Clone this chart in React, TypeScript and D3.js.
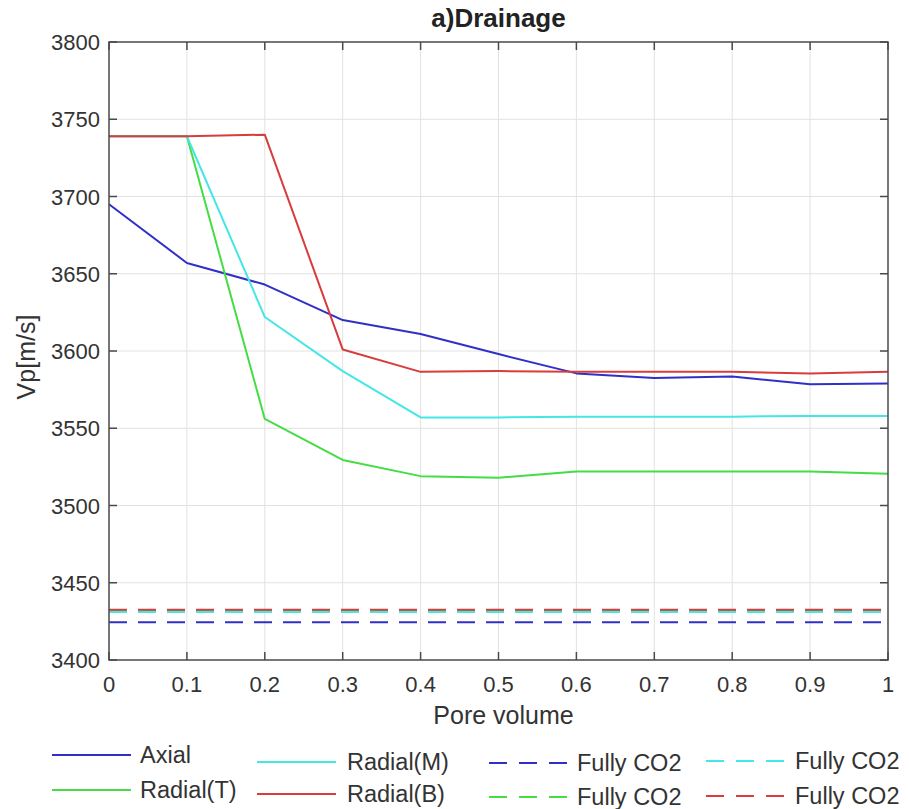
import React from "react";
import * as d3 from "d3";

// Pore volume injected (x) and P-wave velocity readings (m/s)
const poreVolume = [0, 0.1, 0.2, 0.3, 0.4, 0.5, 0.6, 0.7, 0.8, 0.9, 1];
const axial = [3695, 3657, 3643, 3620, 3611, 3598, 3585.5, 3582.5, 3583.5, 3578.5, 3579];
const radialT = [3739, 3739, 3556, 3529.5, 3519, 3518, 3522, 3522, 3522, 3522, 3520.5];
const radialM = [3739, 3739, 3622, 3587, 3557, 3557, 3557.5, 3557.5, 3557.5, 3558, 3558];
const radialB = [3739, 3739, 3740, 3601, 3586.5, 3587, 3586.5, 3586.5, 3586.5, 3585.5, 3586.5];

// Fully CO2-saturated reference velocities
const fullyCO2Axial = 3424.5;
const fullyCO2RadialT = 3432;
const fullyCO2RadialM = 3431;
const fullyCO2RadialB = 3432.5;

const xTicks = [0, 0.1, 0.2, 0.3, 0.4, 0.5, 0.6, 0.7, 0.8, 0.9, 1];
const yTicks = [3400, 3450, 3500, 3550, 3600, 3650, 3700, 3750, 3800];

const COLORS = {
  blue: "#3030c8",
  green: "#44dd44",
  cyan: "#44e6e6",
  red: "#d83c3c",
};

const W = 909;
const H = 809;
const M = { left: 109, right: 888, top: 42, bottom: 660 };
const FONT = "'Liberation Sans', Arial, Helvetica, sans-serif";
const DASH = "18 11";

export default function App() {
  const x = d3.scaleLinear().domain([0, 1]).range([M.left, M.right]);
  const y = d3.scaleLinear().domain([3400, 3800]).range([M.bottom, M.top]);

  const line = d3
    .line<number>()
    .x((_, i) => x(poreVolume[i]))
    .y((d) => y(d));

  const solid = [
    { values: axial, color: COLORS.blue },
    { values: radialT, color: COLORS.green },
    { values: radialM, color: COLORS.cyan },
    { values: radialB, color: COLORS.red },
  ];
  const dashed = [
    { value: fullyCO2Axial, color: COLORS.blue },
    { value: fullyCO2RadialT, color: COLORS.green },
    { value: fullyCO2RadialM, color: COLORS.cyan },
    { value: fullyCO2RadialB, color: COLORS.red },
  ];

  const tickLen = 8;
  const axisColor = "#4a4a4a";
  const textColor = "#333";

  // legend entries: column-major, two rows
  const legend = [
    { label: "Axial", color: COLORS.blue, dash: false, lx: 52, tx: 140, cy: 755 },
    { label: "Radial(T)", color: COLORS.green, dash: false, lx: 52, tx: 140, cy: 790 },
    { label: "Radial(M)", color: COLORS.cyan, dash: false, lx: 257, tx: 347, cy: 762 },
    { label: "Radial(B)", color: COLORS.red, dash: false, lx: 257, tx: 347, cy: 794 },
    { label: "Fully CO2", color: COLORS.blue, dash: true, lx: 489, tx: 577, cy: 763 },
    { label: "Fully CO2", color: COLORS.green, dash: true, lx: 489, tx: 577, cy: 797 },
    { label: "Fully CO2", color: COLORS.cyan, dash: true, lx: 706, tx: 795, cy: 761 },
    { label: "Fully CO2", color: COLORS.red, dash: true, lx: 706, tx: 795, cy: 796 },
  ];

  return (
    <svg
      width={W}
      height={H}
      style={{ position: "absolute", left: 0, top: 0, background: "#fff" }}
      fontFamily={FONT}
    >
      <rect x={0} y={0} width={W} height={H} fill="#fff" />

      {/* grid */}
      <g stroke="#e2e2e2" strokeWidth={1}>
        {xTicks.slice(1, -1).map((t) => (
          <line key={"gx" + t} x1={x(t)} x2={x(t)} y1={M.top} y2={M.bottom} />
        ))}
        {yTicks.slice(1, -1).map((t) => (
          <line key={"gy" + t} x1={M.left} x2={M.right} y1={y(t)} y2={y(t)} />
        ))}
      </g>

      {/* measured series */}
      {solid.map((s, i) => (
        <path
          key={"s" + i}
          d={line(s.values) || ""}
          fill="none"
          stroke={s.color}
          strokeWidth={2}
          strokeLinejoin="round"
        />
      ))}

      {/* fully CO2 reference levels */}
      {dashed.map((s, i) => (
        <line
          key={"d" + i}
          x1={x(0)}
          x2={x(1)}
          y1={y(s.value)}
          y2={y(s.value)}
          stroke={s.color}
          strokeWidth={2}
          strokeDasharray={DASH}
        />
      ))}

      {/* axes box and ticks */}
      <g stroke={axisColor} strokeWidth={1.5} fill="none">
        <rect x={M.left} y={M.top} width={M.right - M.left} height={M.bottom - M.top} />
        {xTicks.map((t) => (
          <g key={"tx" + t}>
            <line x1={x(t)} x2={x(t)} y1={M.bottom} y2={M.bottom - tickLen} />
            <line x1={x(t)} x2={x(t)} y1={M.top} y2={M.top + tickLen} />
          </g>
        ))}
        {yTicks.map((t) => (
          <g key={"ty" + t}>
            <line x1={M.left} x2={M.left + tickLen} y1={y(t)} y2={y(t)} />
            <line x1={M.right} x2={M.right - tickLen} y1={y(t)} y2={y(t)} />
          </g>
        ))}
      </g>

      {/* tick labels */}
      <g fill={textColor} fontSize={22}>
        {xTicks.map((t) => (
          <text key={"lx" + t} x={x(t)} y={M.bottom + 32} textAnchor="middle">
            {d3.format("~g")(t)}
          </text>
        ))}
        {yTicks.map((t) => (
          <text key={"ly" + t} x={M.left - 9} y={y(t) + 8} textAnchor="end">
            {t}
          </text>
        ))}
      </g>

      {/* title and axis labels */}
      <text x={(M.left + M.right) / 2} y={27} textAnchor="middle" fontSize={26} fontWeight="bold" fill="#222">
        a)Drainage
      </text>
      <text x={(M.left + M.right) / 2 + 5} y={724} textAnchor="middle" fontSize={25} fill={textColor}>
        Pore volume
      </text>
      <text
        transform={`translate(35, ${(M.top + M.bottom) / 2 + 6}) rotate(-90)`}
        textAnchor="middle"
        fontSize={25}
        fill={textColor}
      >
        Vp[m/s]
      </text>

      {/* legend */}
      <g fontSize={23.5} fill={textColor}>
        {legend.map((e, i) => (
          <g key={"lg" + i}>
            <line
              x1={e.lx}
              x2={e.lx + 79}
              y1={e.cy}
              y2={e.cy}
              stroke={e.color}
              strokeWidth={2}
              strokeDasharray={e.dash ? "18 12" : undefined}
            />
            <text x={e.tx} y={e.cy + 8}>
              {e.label}
            </text>
          </g>
        ))}
      </g>
    </svg>
  );
}
